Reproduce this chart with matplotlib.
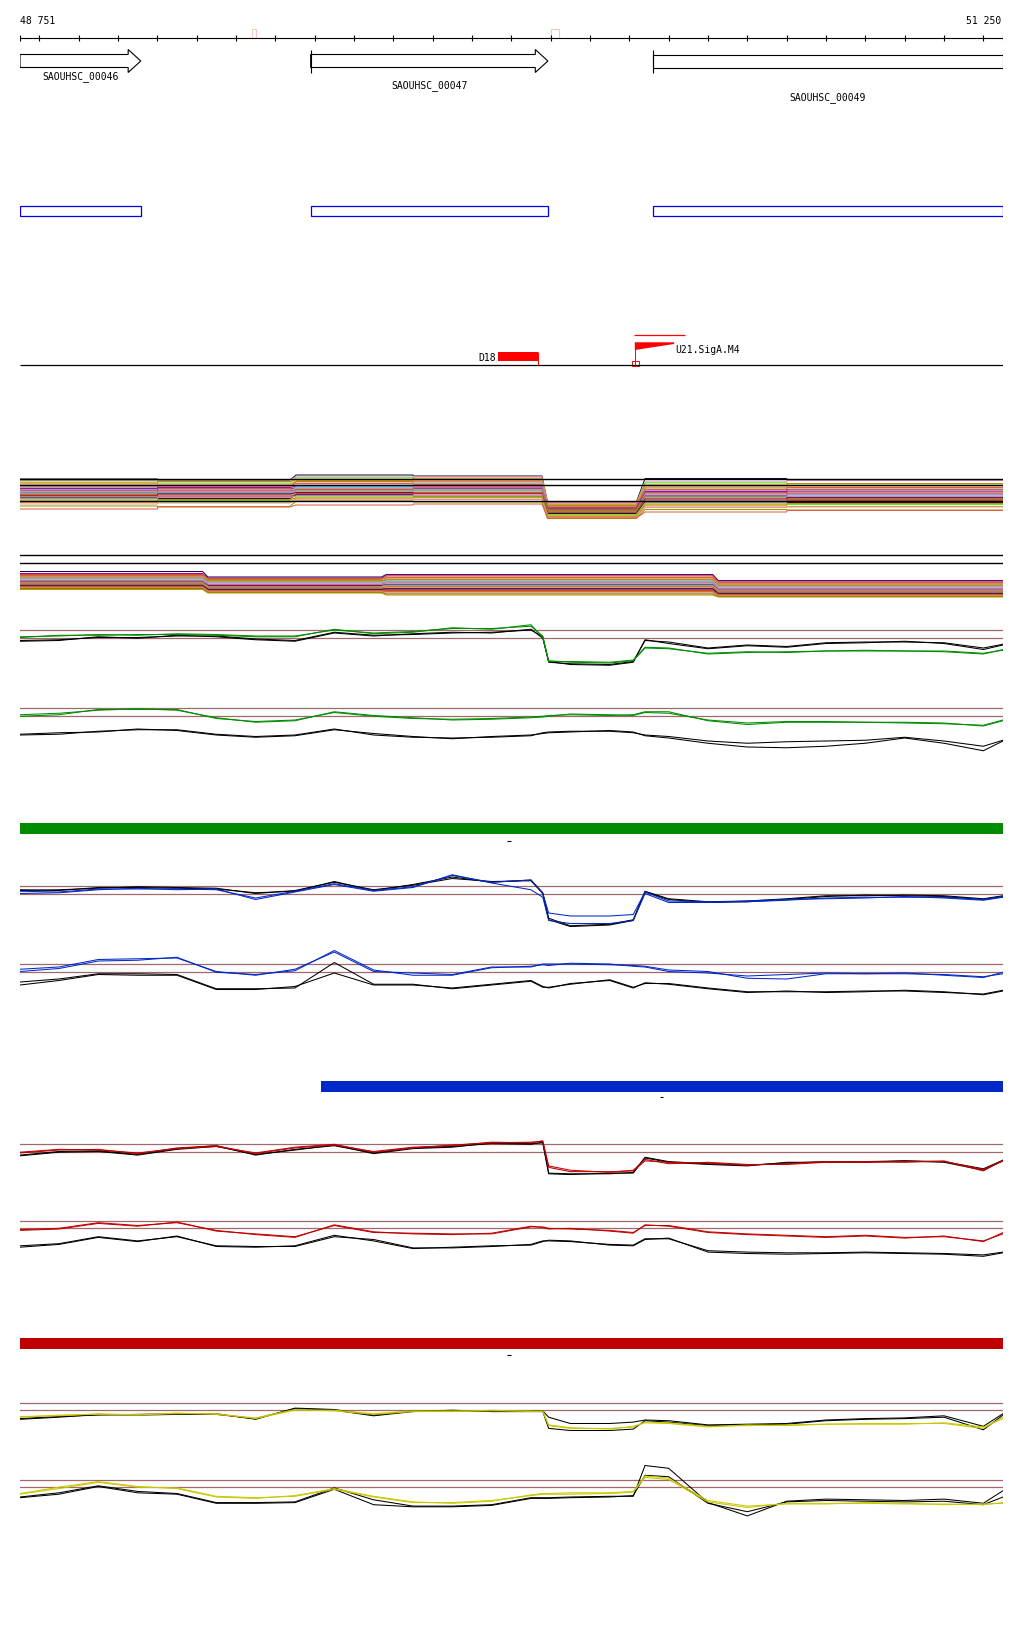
import matplotlib
matplotlib.use("Agg")
import matplotlib.pyplot as plt
from matplotlib.patches import Rectangle, Polygon

# ---------------- data ----------------
START, END = 48751, 51250
RULER_LABELS = ["48 751", "51 250"]
RULER_TICKS = list(range(48800, 51201, 100))
RULER_MARKS = [(49340, 49351), (50100, 50121)]

GENE_NAMES = ["SAOUHSC_00046", "SAOUHSC_00047", "SAOUHSC_00049"]
GENE_START = [48600, 49490, 50360]
GENE_END = [49058, 50093, 51400]

SITE_D18 = (49966, 50068)
SITE_U21 = 50314
SITE_U21_END = 50414
SITE_U21_LINE = (50312, 50442)

BAR_GREEN = (48751, 51250)
BAR_BLUE = (49516, 51250)
BAR_RED = (48751, 51250)

POS = [48751, 48850, 48950, 49050, 49150, 49250, 49350, 49450, 49550, 49650,
       49750, 49850, 49950, 50050, 50080, 50095, 50150, 50250, 50310, 50340,
       50400, 50500, 50600, 50700, 50800, 50900, 51000, 51100, 51200, 51250]

green1_a = [0.1, 0.2, 0.4, 0.3, 0.5, 0.4, 0.2, 0.2, 1.0, 0.6, 0.8, 1.2, 1.2, 1.5, 0.2, -3.2, -3.2, -3.3, -3.0, -1.3, -1.4, -2.2, -2.0, -1.9, -1.8, -1.8, -1.8, -1.9, -2.2, -1.6]
green1_b = [0.0, 0.3, 0.3, 0.4, 0.4, 0.3, 0.1, 0.1, 1.1, 0.5, 0.7, 1.3, 1.1, 1.7, 0.0, -3.1, -3.3, -3.4, -3.1, -1.4, -1.5, -2.1, -1.9, -2.0, -1.8, -1.7, -1.8, -1.8, -2.1, -1.7]
green1_ka = [-0.4, -0.3, 0.0, 0.0, 0.2, 0.2, -0.2, -0.4, 0.7, 0.3, 0.4, 0.6, 0.7, 1.0, 0.1, -3.3, -3.5, -3.6, -3.2, -0.4, -0.6, -1.4, -1.0, -1.2, -0.7, -0.6, -0.6, -0.7, -1.4, -0.9]
green1_kb = [-0.5, -0.4, 0.1, -0.1, 0.3, 0.1, -0.3, -0.5, 0.6, 0.2, 0.5, 0.7, 0.6, 1.1, -0.1, -3.2, -3.6, -3.7, -3.3, -0.3, -0.8, -1.5, -1.1, -1.3, -0.8, -0.7, -0.5, -0.8, -1.6, -1.0]

green2_a = [-0.1, 0.1, 0.8, 0.8, 0.8, -0.4, -0.8, -0.6, 0.4, -0.1, -0.4, -0.5, -0.4, -0.2, -0.1, 0.0, 0.1, 0.0, 0.1, 0.5, 0.5, -0.7, -1.2, -0.9, -0.9, -0.9, -0.9, -1.0, -1.4, -0.7]
green2_b = [0.1, 0.3, 0.7, 0.9, 0.7, -0.3, -0.9, -0.7, 0.5, 0.0, -0.3, -0.6, -0.5, -0.3, -0.2, -0.1, 0.2, 0.1, 0.0, 0.4, 0.3, -0.6, -1.0, -0.8, -0.8, -0.9, -1.0, -1.1, -1.3, -0.6]
green2_ka = [-2.6, -2.5, -2.1, -1.9, -1.9, -2.5, -2.8, -2.6, -1.8, -2.6, -2.9, -3.0, -2.9, -2.7, -2.3, -2.2, -2.1, -2.1, -2.3, -2.6, -2.8, -3.4, -3.7, -3.5, -3.4, -3.3, -2.9, -3.4, -4.1, -3.3]
green2_kb = [-2.5, -2.3, -2.2, -1.8, -2.0, -2.6, -2.9, -2.7, -1.9, -2.4, -2.8, -3.1, -2.8, -2.6, -2.4, -2.3, -2.2, -2.0, -2.2, -2.7, -3.0, -3.7, -4.2, -4.3, -4.1, -3.7, -3.0, -3.7, -4.7, -3.4]

blue1_a = [0.3, 0.2, 0.6, 0.6, 0.6, 0.5, -0.6, 0.3, 1.3, 0.4, 0.9, 2.4, 1.5, 1.8, 0.0, -2.6, -3.0, -3.0, -2.8, 0.2, -1.0, -1.1, -1.1, -0.9, -0.6, -0.5, -0.5, -0.5, -0.8, -0.4]
blue1_b = [0.0, 0.1, 0.5, 0.7, 0.5, 0.6, -0.8, 0.2, 1.2, 0.3, 0.8, 2.5, 1.4, 0.5, -0.5, -3.6, -4.0, -4.0, -3.6, 0.0, -1.2, -1.2, -1.0, -0.8, -0.7, -0.6, -0.4, -0.6, -0.9, -0.5]
blue1_ka = [0.5, 0.4, 0.8, 0.8, 0.7, 0.6, 0.1, 0.3, 1.6, 0.4, 1.2, 2.2, 1.5, 1.8, 0.1, -3.3, -4.3, -4.1, -3.5, 0.3, -0.7, -1.1, -1.0, -0.7, -0.3, -0.3, -0.2, -0.3, -0.7, -0.3]
blue1_kb = [0.4, 0.5, 0.7, 0.9, 0.8, 0.7, 0.0, 0.4, 1.5, 0.5, 1.1, 2.0, 1.6, 1.7, 0.0, -3.5, -4.4, -4.2, -3.6, 0.2, -0.8, -1.2, -1.1, -0.8, -0.4, -0.2, -0.3, -0.4, -0.8, -0.4]

blue2_a = [0.3, 0.6, 1.6, 1.7, 1.8, 0.0, -0.5, 0.3, 2.6, 0.0, -0.2, -0.4, 0.6, 0.6, 1.0, 1.0, 1.0, 0.9, 0.8, 0.7, 0.2, 0.0, -0.9, -1.0, -0.3, -0.3, -0.3, -0.4, -0.7, -0.3]
blue2_b = [0.0, 0.4, 1.4, 1.5, 1.9, -0.1, -0.4, 0.1, 2.8, 0.2, -0.5, -0.5, 0.5, 0.7, 0.9, 0.8, 1.1, 1.0, 0.7, 0.6, 0.0, -0.2, -0.6, -0.4, -0.2, -0.3, -0.2, -0.5, -0.8, -0.1]
blue2_ka = [-1.4, -1.0, -0.3, -0.3, -0.4, -2.3, -2.3, -2.2, 1.2, -1.7, -1.7, -2.3, -1.8, -1.3, -2.1, -2.1, -1.7, -1.1, -2.1, -1.6, -1.6, -2.2, -2.7, -2.7, -2.7, -2.6, -2.6, -2.8, -3.0, -2.5]
blue2_kb = [-1.8, -1.2, -0.4, -0.5, -0.5, -2.4, -2.4, -2.0, -0.2, -1.8, -1.8, -2.2, -1.7, -1.2, -2.0, -2.2, -1.6, -1.2, -2.2, -1.5, -1.7, -2.3, -2.8, -2.6, -2.8, -2.7, -2.5, -2.7, -3.1, -2.6]

red1_a = [-0.2, 0.2, 0.3, -0.3, 0.5, 0.8, -0.3, 0.5, 0.9, 0.0, 0.6, 0.8, 1.3, 1.2, 1.5, -2.2, -2.8, -2.8, -2.7, -1.3, -1.5, -1.6, -1.9, -1.7, -1.4, -1.5, -1.4, -1.4, -2.5, -1.3]
red1_b = [-0.1, 0.3, 0.2, -0.2, 0.4, 0.7, -0.2, 0.6, 1.0, -0.1, 0.5, 0.9, 1.2, 1.3, 1.4, -2.0, -2.6, -2.9, -2.6, -1.1, -1.7, -1.5, -1.8, -1.8, -1.5, -1.4, -1.5, -1.3, -2.7, -1.2]
red1_ka = [-0.5, 0.0, 0.1, -0.4, 0.4, 0.8, -0.5, 0.3, 0.8, -0.2, 0.5, 0.7, 1.1, 1.0, 1.3, -3.0, -3.1, -3.1, -2.9, -0.8, -1.4, -1.7, -1.9, -1.6, -1.4, -1.5, -1.3, -1.4, -2.4, -1.2]
red1_kb = [-0.6, -0.1, 0.0, -0.5, 0.3, 0.7, -0.4, 0.2, 0.9, -0.3, 0.4, 0.6, 1.2, 1.1, 1.2, -3.1, -3.2, -3.0, -3.0, -0.9, -1.5, -1.8, -2.0, -1.5, -1.5, -1.4, -1.3, -1.5, -2.6, -1.3]

red2_a = [-0.3, -0.1, 0.7, 0.3, 0.9, -0.4, -0.8, -1.2, 0.4, -0.6, -0.7, -0.8, -0.8, 0.2, 0.2, 0.0, -0.1, -0.3, -0.6, 0.4, 0.4, -0.5, -0.8, -1.0, -1.2, -1.0, -1.3, -1.2, -1.8, -0.8]
red2_b = [-0.2, 0.0, 0.8, 0.4, 0.8, -0.3, -0.9, -1.3, 0.5, -0.5, -0.8, -0.9, -0.7, 0.3, 0.1, -0.1, 0.0, -0.4, -0.7, 0.5, 0.3, -0.6, -0.9, -1.1, -1.3, -1.1, -1.4, -1.1, -1.9, -0.6]
red2_ka = [-2.5, -2.2, -1.2, -1.8, -1.2, -2.5, -2.6, -2.6, -1.2, -1.6, -2.8, -2.8, -2.6, -2.3, -1.8, -1.8, -1.9, -2.3, -2.4, -1.5, -1.5, -3.2, -3.4, -3.5, -3.5, -3.4, -3.5, -3.6, -3.8, -3.4]
red2_kb = [-2.7, -2.3, -1.3, -1.9, -1.1, -2.6, -2.7, -2.5, -1.0, -1.8, -2.9, -2.7, -2.5, -2.4, -1.9, -1.7, -1.8, -2.4, -2.5, -1.6, -1.4, -3.4, -3.6, -3.7, -3.6, -3.5, -3.6, -3.7, -4.0, -3.5]

yel1_a = [-1.1, -0.8, -0.7, -0.7, -0.6, -0.6, -1.3, -0.1, -0.1, -0.6, -0.2, -0.2, -0.2, -0.2, -0.3, -2.3, -2.7, -2.7, -2.5, -1.8, -1.9, -2.4, -2.3, -2.2, -2.1, -2.0, -2.0, -2.0, -2.7, -1.1]
yel1_b = [-1.0, -0.9, -0.6, -0.8, -0.5, -0.7, -1.2, 0.0, -0.2, -0.7, -0.3, -0.3, -0.1, -0.3, -0.2, -2.2, -2.6, -2.8, -2.4, -1.9, -2.0, -2.5, -2.2, -2.3, -2.1, -2.1, -2.1, -1.9, -2.5, -1.3]
yel1_ka = [-1.3, -1.0, -0.8, -0.7, -0.6, -0.6, -1.4, 0.2, 0.0, -0.8, -0.2, -0.2, -0.2, -0.2, -0.2, -1.1, -2.0, -2.0, -1.8, -1.5, -1.6, -2.2, -2.1, -2.0, -1.5, -1.3, -1.2, -0.9, -2.4, -0.6]
yel1_kb = [-1.4, -1.1, -0.7, -0.8, -0.7, -0.7, -1.3, 0.1, -0.1, -0.9, -0.3, -0.1, -0.3, -0.3, -0.3, -2.7, -3.0, -3.0, -2.8, -1.6, -1.8, -2.3, -2.2, -2.1, -1.6, -1.4, -1.3, -1.1, -2.9, -0.8]

yel2_a = [-1.1, -0.3, 0.6, -0.1, -0.2, -1.4, -1.6, -1.4, -0.4, -1.5, -2.3, -2.3, -2.0, -1.3, -1.1, -1.1, -1.1, -1.0, -0.8, 1.3, 1.0, -2.2, -3.0, -2.4, -2.4, -2.4, -2.5, -2.5, -2.6, -2.3]
yel2_b = [-1.0, -0.1, 0.7, 0.0, -0.3, -1.5, -1.7, -1.3, -0.3, -1.4, -2.2, -2.4, -2.1, -1.2, -1.0, -1.0, -0.9, -0.9, -0.7, 1.5, 1.2, -2.0, -2.8, -2.5, -2.5, -2.3, -2.4, -2.6, -2.5, -2.4]
yel2_ka = [-1.5, -0.9, 0.1, -0.7, -1.0, -2.3, -2.3, -2.2, -0.2, -1.9, -2.8, -2.8, -2.6, -1.6, -1.6, -1.6, -1.5, -1.4, -1.4, 3.0, 2.6, -2.3, -4.2, -2.1, -1.8, -1.9, -2.0, -1.8, -2.4, -0.6]
yel2_kb = [-1.6, -1.1, 0.0, -0.9, -1.1, -2.4, -2.4, -2.3, -0.4, -2.6, -2.9, -2.9, -2.7, -1.7, -1.7, -1.7, -1.6, -1.5, -1.3, 1.6, 1.4, -2.4, -3.6, -2.2, -2.0, -2.1, -2.2, -2.1, -2.6, -1.5]

# multi-sample bundle 1: levels per segment
B1_X = [START, 49100, 49101, 49437, 49453, 49750, 49751, 50078, 50092, 50318, 50340, 50700, 50701, END]
B1_REF = [0.0, 3.2, 4.5]
b1_lines = [
    [4.4, 4.2, 5.2, 5.0, -0.2, 4.5, 4.3], [4.1, 4.3, 4.8, 4.9, -0.4, 3.8, 4.1],
    [3.8, 3.6, 4.6, 4.4, -0.7, 3.6, 3.4], [3.6, 3.9, 4.3, 4.6, -0.9, 3.2, 3.5],
    [3.4, 3.2, 4.1, 3.9, -0.6, 3.0, 2.8], [3.2, 3.4, 3.8, 4.1, -1.1, 2.8, 3.1],
    [3.0, 2.8, 3.9, 3.6, -1.3, 2.6, 2.4], [2.8, 3.0, 3.5, 3.3, -1.0, 2.3, 2.7],
    [2.7, 2.5, 3.2, 3.5, -1.5, 2.1, 1.9], [2.5, 2.7, 3.0, 2.8, -1.4, 1.9, 2.2],
    [2.3, 2.1, 2.9, 3.1, -1.7, 1.7, 1.5], [2.1, 2.4, 2.6, 2.5, -1.6, 1.6, 1.8],
    [2.0, 1.8, 2.7, 2.3, -1.9, 1.3, 1.2], [1.8, 2.0, 2.3, 2.6, -2.0, 1.1, 1.4],
    [1.6, 1.5, 2.2, 2.0, -1.8, 0.9, 0.8], [1.5, 1.7, 2.0, 2.2, -2.2, 0.8, 1.0],
    [1.3, 1.2, 1.8, 1.7, -2.1, 0.6, 0.5], [1.1, 1.4, 1.7, 1.5, -2.4, 0.4, 0.7],
    [1.0, 0.8, 1.5, 1.6, -2.3, 0.2, 0.1], [0.8, 1.0, 1.3, 1.2, -2.6, 0.0, 0.3],
    [0.6, 0.5, 1.2, 1.0, -2.5, -0.2, -0.3], [0.4, 0.7, 1.0, 1.1, -2.8, -0.4, -0.1],
    [0.2, 0.1, 0.8, 0.7, -2.7, -0.6, -0.7], [0.0, 0.3, 0.6, 0.8, -3.0, -0.8, -0.5],
    [-0.3, -0.2, 0.4, 0.3, -3.1, -1.0, -1.1], [-0.6, -0.4, 0.2, 0.4, -3.3, -1.3, -1.2],
    [-1.0, -1.1, 0.0, -0.2, -3.5, -1.7, -1.8], [-1.6, -1.2, -0.8, -0.6, -3.4, -2.2, -1.9],
]
# multi-sample bundle 2
B2_X = [START, 49215, 49229, 49670, 49682, 50512, 50526, END]
B2_REF = [6.1, 7.6]
b2_lines = [
    [4.3, 3.2, 3.7, 2.5], [3.9, 3.0, 3.6, 2.4], [3.7, 2.9, 3.4, 2.2], [3.5, 2.7, 3.1, 2.1],
    [3.3, 2.8, 3.0, 1.9], [3.2, 2.5, 2.8, 1.8], [3.0, 2.4, 2.6, 1.6], [2.9, 2.2, 2.7, 1.5],
    [2.8, 2.1, 2.4, 1.3], [2.6, 2.0, 2.2, 1.2], [2.5, 1.8, 2.3, 1.0], [2.4, 1.7, 2.0, 0.9],
    [2.3, 1.6, 1.9, 0.8], [2.2, 1.5, 1.7, 0.6], [2.1, 1.3, 1.6, 0.5], [2.0, 1.2, 1.5, 0.4],
    [1.9, 1.1, 1.3, 0.3], [1.8, 1.0, 1.2, 0.2], [1.7, 0.9, 1.0, 0.1], [1.6, 0.8, 0.9, 0.0],
    [1.5, 0.7, 0.8, -0.1], [1.4, 0.6, 0.6, -0.2], [1.3, 0.5, 0.5, -0.3], [1.2, 0.4, 0.3, -0.4],
    [1.1, 0.3, 0.2, -0.5], [1.0, 0.2, 0.0, -0.6], [0.9, 0.1, -0.2, -0.7], [0.7, 0.0, -0.4, -0.8],
]
PALETTE = ["#101040", "#E06040", "#808000", "#E080C0", "#B8A0D8", "#60A8F0", "#60F000",
           "#B000B0", "#D07020", "#C09000", "#A0A0A0", "#900050", "#FF8040", "#B03020",
           "#C05030", "#D0A0A0", "#70C0FF", "#A06060", "#989800", "#F04060"]

# ---------------- layout ----------------
W, H = 1024, 1640
X0, X1 = 20, 1003
FONT = dict(family="DejaVu Sans Mono", fontsize=7)
BROWN = "#A06868"

fig = plt.figure(figsize=(W / 100, H / 100), dpi=100)
fig.patch.set_facecolor("white")

ann = fig.add_axes([X0 / W, 0, (X1 - X0) / W, 1])
ann.set_xlim(START, END)
ann.set_ylim(H, 0)
ann.axis("off")

# ruler
AY = 39
ann.hlines(AY, START, END, color="black", lw=0.8)
for t in [START] + RULER_TICKS + [END]:
    ann.vlines(t, AY - 3, AY + 3, color="black", lw=0.8)
for a, b in RULER_MARKS:
    ann.add_patch(Rectangle((a, AY - 9), b - a, 9, fill=False, ec="#F4C8C0", lw=0.8))
ann.text(START, 21, RULER_LABELS[0], ha="left", va="center", **FONT)
ann.text(END - 5, 21, RULER_LABELS[1], ha="right", va="center", **FONT)

# genes
LABEL_Y = [77, 86, 98]
for name, s, e, ly in zip(GENE_NAMES, GENE_START, GENE_END, LABEL_Y):
    l, r = max(s, START), min(e, END)
    top, bot, htop, hbot = 55.5, 68.5, 50.5, 73.5
    if e <= END:
        hl = 32
        pts = [(l, top), (r - hl, top), (r - hl, htop), (r, (top + bot) / 2),
               (r - hl, hbot), (r - hl, bot), (l, bot)]
    else:
        pts = [(l, top), (r, top), (r, bot), (l, bot)]
    ann.add_patch(Polygon(pts, closed=True, fc="white", ec="black", lw=0.8))
    if s >= START:
        ann.vlines(s, htop, hbot, color="black", lw=0.8)
    ann.text((l + r) / 2, ly, name, ha="center", va="center", **FONT)
    ann.add_patch(Rectangle((l, 207), r - l, 9.5, fill=False, ec="#0000F0", lw=0.9))

# site track
BY = 366
ann.hlines(BY, START, END, color="black", lw=0.9)
ann.add_patch(Rectangle((SITE_D18[0], 353), SITE_D18[1] - SITE_D18[0], 8.5, fc="#FF0000", ec="none"))
ann.vlines(SITE_D18[1], 353, BY, color="#FF0000", lw=0.7)
ann.text(SITE_D18[0] - 4, 358, "D18", ha="right", va="center", **FONT)
ann.hlines(336, SITE_U21_LINE[0], SITE_U21_LINE[1], color="#FF0000", lw=0.9)
ann.vlines(SITE_U21, 343, BY, color="#FF0000", lw=0.7)
ann.add_patch(Polygon([(SITE_U21, 343.3), (SITE_U21_END, 343.3), (SITE_U21_END, 345), (SITE_U21, 351)],
                      closed=True, fc="#FF0000", ec="none"))
ann.add_patch(Rectangle((SITE_U21 - 8, 362), 18, 4.5, fill=False, ec="#FF0000", lw=0.7))
ann.text(SITE_U21_END + 2, 350, "U21.SigA.M4", ha="left", va="center", **FONT)

# coloured condition bars
ann.add_patch(Rectangle((BAR_GREEN[0], 824), BAR_GREEN[1] - BAR_GREEN[0], 11, fc="#008C00", ec="none"))
ann.add_patch(Rectangle((BAR_BLUE[0], 1082), BAR_BLUE[1] - BAR_BLUE[0], 11, fc="#0028C8", ec="none"))
ann.add_patch(Rectangle((BAR_RED[0], 1339), BAR_RED[1] - BAR_RED[0], 11, fc="#BE0000", ec="none"))
for cx, cy in [(49994, 841.5), (50381, 1098), (49994, 1356)]:
    ann.hlines(cy, cx - 4, cx + 4, color="black", lw=0.8)


def panel(top, bottom, ylo, yhi):
    ax = fig.add_axes([X0 / W, 1 - bottom / H, (X1 - X0) / W, (bottom - top) / H])
    ax.set_xlim(START, END)
    ax.set_ylim(ylo, yhi)
    ax.axis("off")
    ax.patch.set_alpha(0)
    return ax


def profile_panel(ref1, ref0, series):
    sc = ref0 - ref1  # px per unit
    top, bot = ref1 - 8 * sc, ref0 + 8 * sc
    ax = panel(top, bot, -8, 9)
    ax.axhline(1, color=BROWN, lw=0.9)
    ax.axhline(0, color=BROWN, lw=0.9)
    for vals, col in series:
        ax.plot(POS, vals, color=col, lw=0.75)


G, B, R, Y, K = "#008C00", "#0028C8", "#C00000", "#C8C800", "black"
profile_panel(631, 638.5, [(green1_ka, K), (green1_kb, K), (green1_a, G), (green1_b, G)])
profile_panel(709, 716.5, [(green2_ka, K), (green2_kb, K), (green2_a, G), (green2_b, G)])
profile_panel(887, 894.5, [(blue1_ka, K), (blue1_kb, K), (blue1_a, B), (blue1_b, B)])
profile_panel(965, 972.5, [(blue2_ka, K), (blue2_kb, K), (blue2_a, B), (blue2_b, B)])
profile_panel(1145.3, 1152.5, [(red1_ka, K), (red1_kb, K), (red1_a, R), (red1_b, R)])
profile_panel(1222.3, 1229.3, [(red2_ka, K), (red2_kb, K), (red2_a, R), (red2_b, R)])
profile_panel(1403.5, 1410.5, [(yel1_ka, K), (yel1_kb, K), (yel1_a, Y), (yel1_b, Y)])
profile_panel(1480.5, 1487.5, [(yel2_ka, K), (yel2_kb, K), (yel2_a, Y), (yel2_b, Y)])

# bundle 1: level 0 at px 502, 5 px per unit
ax1 = panel(452, 532, -6, 10)
for i, lv in enumerate(b1_lines):
    ys = [v for v in lv for _ in (0, 1)]
    ax1.plot(B1_X, ys, color=PALETTE[(i * 3) % len(PALETTE)], lw=0.75)
for r in B1_REF:
    ax1.axhline(r, color="black", lw=1.0)

# bundle 2: level 0 at px 594, 5 px per unit
ax2 = panel(534, 614, -4, 12)
for i, lv in enumerate(b2_lines):
    ys = [v for v in lv for _ in (0, 1)]
    ax2.plot(B2_X, ys, color=PALETTE[(i * 7) % len(PALETTE)], lw=0.75)
for r in B2_REF:
    ax2.axhline(r, color="black", lw=1.0)

fig.savefig("out.png", dpi=100, facecolor="white")
